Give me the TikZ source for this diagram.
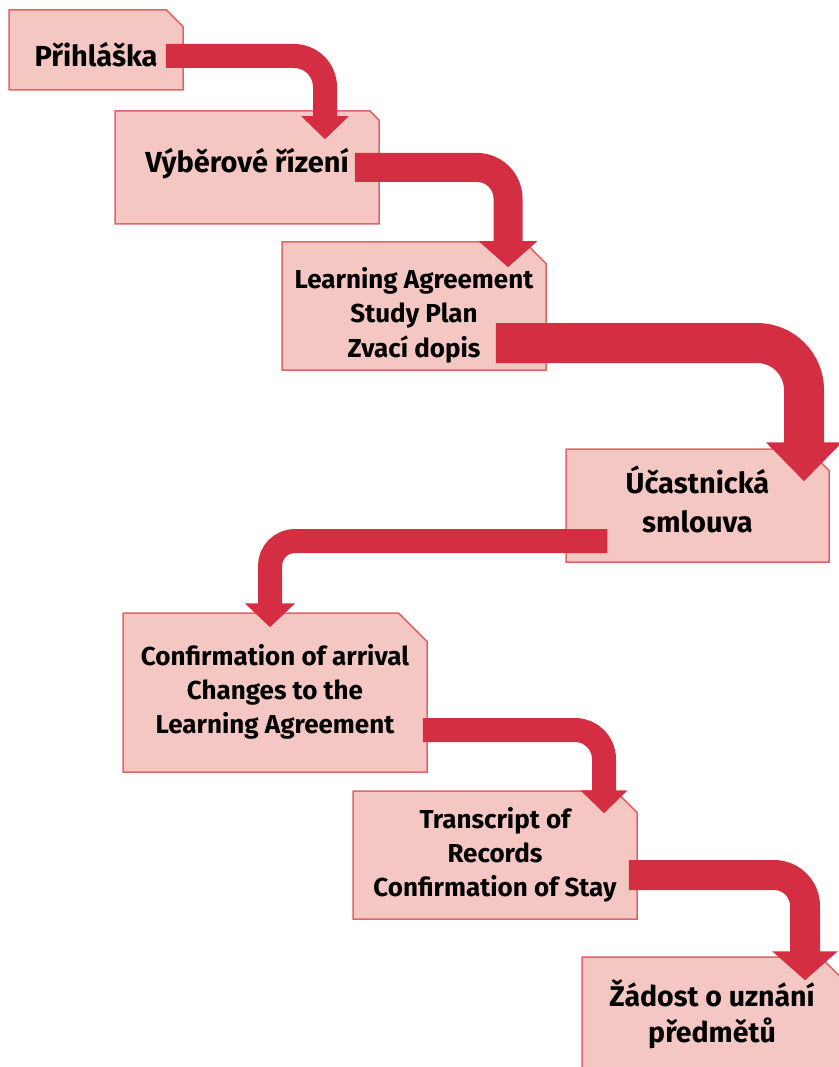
\documentclass[tikz,border=0pt]{standalone}
\usepackage{fontspec}
\setmainfont{Fira Sans}
\usetikzlibrary{positioning,arrows.meta,shapes.misc}
\definecolor{boxfill}{HTML}{F4C7C2}
\definecolor{boxline}{HTML}{E06468}
\definecolor{flowred}{HTML}{D42E42}

\begin{document}
\begin{tikzpicture}[x=1pt,y=-1pt,
  doc/.style={chamfered rectangle, chamfered rectangle corners=north east,
    chamfered rectangle xsep=#1, draw=boxline, fill=boxfill, line width=1.5pt,
    align=center, inner ysep=0pt, inner xsep=-#1},
  doc/.default=18pt,
  baseat/.style={text height=#1, text depth=0pt},
  flow/.style={draw=flowred, line width=#1, rounded corners=31pt}]

  \useasboundingbox (0,0) rectangle (838,1067);

  % Documents
  \node[doc=13pt, minimum width=174pt, minimum height=80pt, baseat=34pt,
    font=\bfseries\fontsize{29}{35}\selectfont] (prihlaska) at (96,50) {Přihláška};
  \node[doc, minimum width=264pt, minimum height=113pt, baseat=11pt,
    font=\bfseries\fontsize{29}{35}\selectfont] (vyber) at (247,167.5) {Výběrové řízení};
  \node[doc, minimum width=264pt, minimum height=128pt, baseat=102pt,
    font=\bfseries\fontsize{26}{34.5}\selectfont] (agreement) at (414,306) {Learning Agreement\\Study Plan\\Zvací dopis};
  \node[doc, minimum width=263pt, minimum height=113pt, baseat=53pt,
    font=\bfseries\fontsize{29}{39}\selectfont] (smlouva) at (697.5,505.5) {Účastnická\\smlouva};
  \node[doc=25pt, minimum width=304pt, minimum height=159pt, baseat=81pt,
    font=\bfseries\fontsize{26}{34}\selectfont] (arrival) at (275,692.5) {Confirmation of arrival\\Changes to the\\Learning Agreement};
  \node[doc, minimum width=284pt, minimum height=128pt, baseat=82pt,
    font=\bfseries\fontsize{26}{34}\selectfont] (transcript) at (495,855) {Transcript of\\Records\\Confirmation of Stay};
  \node[doc, minimum width=260pt, minimum height=125pt, baseat=45pt,
    font=\bfseries\fontsize{28.5}{36}\selectfont] (uznani) at (712,1019.5) {Žádost o uznání\\předmětů};

  % Flow
  \draw[flow=24pt, -{Triangle[length=23pt,width=46pt]}]
    ([xshift=-18pt,yshift=-6pt]prihlaska.east) -| ([xshift=78pt,yshift=-29pt]vyber.north);
  \draw[flow=29pt, -{Triangle[length=26pt,width=57pt]}]
    ([xshift=-25pt]vyber.east) -| ([xshift=94pt,yshift=-26pt]agreement.north);
  \draw[flow=40pt, rounded corners=47pt, -{Triangle[length=39pt,width=74pt]}]
    ([xshift=-51pt,yshift=-37pt]agreement.east) -| ([xshift=106.5pt,yshift=-33pt]smlouva.north);
  \draw[flow=24pt, rounded corners=25pt, -{Triangle[length=24pt,width=49pt]}]
    ([xshift=42pt,yshift=-35.5pt]smlouva.west) -| ([xshift=-5pt,yshift=-15pt]arrival.north);
  \draw[flow=24pt, rounded corners=29pt, -{Triangle[length=23pt,width=46pt]}]
    ([xshift=-5pt,yshift=-37.5pt]arrival.east) -| ([xshift=109pt,yshift=-23pt]transcript.north);
  \draw[flow=30pt, -{Triangle[length=29pt,width=64pt]}]
    ([xshift=-9pt,yshift=-20pt]transcript.east) -| ([xshift=93pt,yshift=-24pt]uznani.north);

\end{tikzpicture}
\end{document}
